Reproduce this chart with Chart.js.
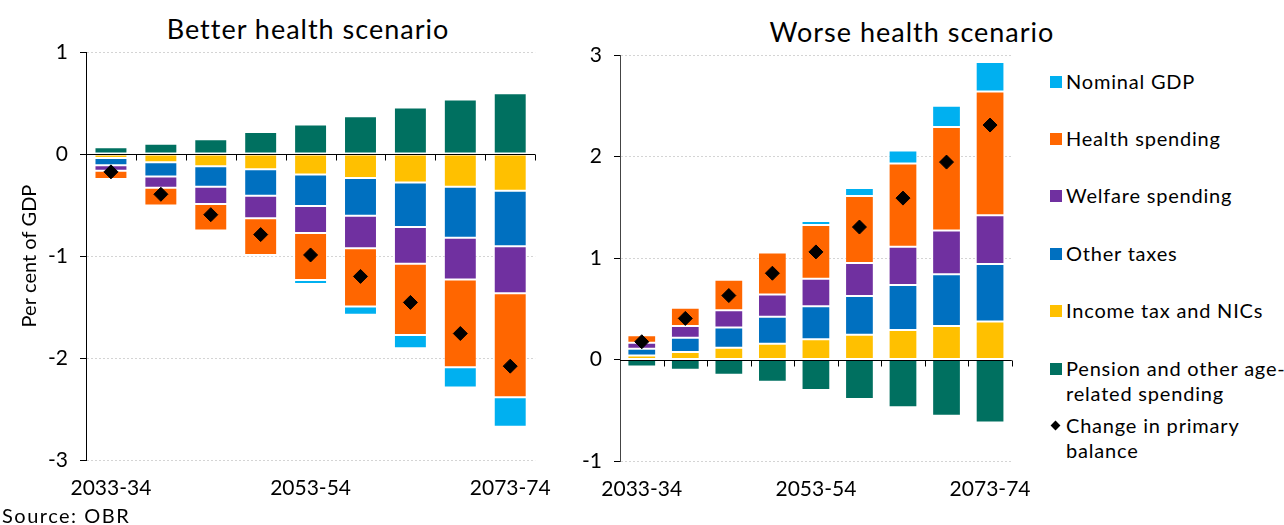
<!DOCTYPE html>
<html>
<head>
<meta charset="utf-8">
<script src="https://cdn.jsdelivr.net/npm/chart.js@4"></script>
<style>
  body { margin: 0; background: #fff; font-family: "Lato", sans-serif; color: #000; }
  #page { position: relative; width: 1284px; height: 525px; overflow: hidden; }
  .box { position: absolute; top: 0; height: 505px; }
  .title { position: absolute; font-size: 27px; letter-spacing: 1px; white-space: nowrap; transform: translateX(-50%); }
  .legend { position: absolute; left: 1048px; top: 0; font-size: 20px; letter-spacing: 0.8px; }
  .item { position: absolute; left: 0; white-space: nowrap; line-height: 25px; }
  .item i { position: absolute; left: 2px; top: 7px; width: 12px; height: 12px; }
  .item span { display: block; margin-left: 18px; }
  .item i.dia { width: 7px; height: 7px; left: 4px; top: 9px; transform: rotate(45deg); background: #000; }
  #source { position: absolute; left: 2px; top: 503px; font-size: 20px; letter-spacing: 1.5px; }
</style>
</head>
<body>
<div id="page">
  <div class="title" style="left:308px; top:12px;">Better health scenario</div>
  <div class="title" style="left:912px; top:15px;">Worse health scenario</div>
  <div class="box" style="left:0; width:560px;"><canvas id="better"></canvas></div>
  <div class="box" style="left:540px; width:500px;"><canvas id="worse"></canvas></div>
  <div class="legend" id="legend"></div>
  <div id="source">Source: OBR</div>
</div>
<script>
// ---- data (per cent of GDP) ----
const categories = ['2033-34', '2038-39', '2043-44', '2048-49', '2053-54', '2058-59', '2063-64', '2068-69', '2073-74'];

const betterIncomeTax = [-0.04, -0.08, -0.12, -0.15, -0.20, -0.235, -0.28, -0.32, -0.36];
const betterOtherTaxes = [-0.07, -0.14, -0.20, -0.26, -0.31, -0.37, -0.435, -0.50, -0.545];
const betterWelfare = [-0.055, -0.11, -0.17, -0.22, -0.265, -0.32, -0.36, -0.41, -0.46];
const betterHealth = [-0.08, -0.175, -0.26, -0.36, -0.46, -0.57, -0.70, -0.86, -1.02];
const betterNominalGdp = [-0.005, -0.005, -0.005, -0.015, -0.04, -0.08, -0.13, -0.20, -0.29];
const betterPension = [0.065, 0.10, 0.145, 0.215, 0.29, 0.37, 0.455, 0.535, 0.595];
const betterBalance = [-0.175, -0.395, -0.595, -0.79, -0.99, -1.20, -1.455, -1.76, -2.08];

const worseIncomeTax = [0.04, 0.075, 0.115, 0.155, 0.20, 0.245, 0.29, 0.33, 0.375];
const worseOtherTaxes = [0.065, 0.14, 0.20, 0.265, 0.325, 0.38, 0.445, 0.51, 0.565];
const worseWelfare = [0.06, 0.115, 0.17, 0.22, 0.27, 0.325, 0.375, 0.43, 0.48];
const worseHealth = [0.075, 0.18, 0.30, 0.415, 0.53, 0.66, 0.82, 1.02, 1.22];
const worseNominalGdp = [0, 0, 0.003, 0.017, 0.04, 0.08, 0.13, 0.21, 0.29];
const worsePension = [-0.07, -0.10, -0.15, -0.22, -0.30, -0.39, -0.47, -0.555, -0.62];
const worseBalance = [0.175, 0.405, 0.63, 0.85, 1.06, 1.305, 1.59, 1.945, 2.31];

const betterTicks = [1, 0, -1, -2, -3];
const worseTicks = [3, 2, 1, 0, -1];

// ---- colours / legend ----
const colors = {
    nominal: '#00B0F0',
    health: '#FF6600',
    welfare: '#7030A0',
    other: '#0070C0',
    income: '#FFC000',
    pension: '#007060'
};

const legendItems = [
    { text: 'Nominal GDP', color: colors.nominal, top: 69 },
    { text: 'Health spending', color: colors.health, top: 126 },
    { text: 'Welfare spending', color: colors.welfare, top: 183 },
    { text: 'Other taxes', color: colors.other, top: 241 },
    { text: 'Income tax and NICs', color: colors.income, top: 298 },
    { text: 'Pension and other age-<br>related spending', color: colors.pension, top: 356 },
    { text: 'Change in primary<br>balance', diamond: true, top: 413 }
];

const legend = document.getElementById('legend');
legendItems.forEach(it => {
    const d = document.createElement('div');
    d.className = 'item';
    d.style.top = it.top + 'px';
    d.innerHTML = it.diamond
        ? `<i class="dia"></i><span>${it.text}</span>`
        : `<i style="background:${it.color}"></i><span>${it.text}</span>`;
    legend.appendChild(d);
});

Chart.defaults.font.family = 'Lato, sans-serif';
Chart.defaults.color = '#000';

// zero line with small tick marks at category boundaries
const zeroLine = {
    id: 'zeroLine',
    afterDatasetsDraw(chart) {
        const { ctx, scales: { x, y } } = chart;
        const y0 = Math.round(y.getPixelForValue(0)) + 0.5;
        const n = chart.data.labels.length;
        ctx.save();
        ctx.strokeStyle = '#000';
        ctx.lineWidth = 1;
        ctx.beginPath();
        ctx.moveTo(x.left, y0);
        ctx.lineTo(x.right, y0);
        for (let i = 1; i <= n; i++) {
            const px = Math.round(x.left + i * x.width / n) + 0.5;
            ctx.moveTo(px, y0);
            ctx.lineTo(px, y0 + 6);
        }
        ctx.stroke();
        ctx.restore();
    }
};

function barSet(label, data, color) {
    return {
        type: 'bar',
        label: label,
        data: data,
        backgroundColor: color,
        borderColor: 'rgba(255,255,255,0.35)',
        borderWidth: 1,
        borderSkipped: false,
        barPercentage: 0.66,
        categoryPercentage: 1,
        stack: 'parts',
        order: 1
    };
}

function makeChart(id, series, ticks, opts) {
    const datasets = [
        barSet('Income tax and NICs', series.income, colors.income),
        barSet('Other taxes', series.other, colors.other),
        barSet('Welfare spending', series.welfare, colors.welfare),
        barSet('Health spending', series.health, colors.health),
        barSet('Nominal GDP', series.nominal, colors.nominal),
        barSet('Pension and other age-related spending', series.pension, colors.pension),
        {
            type: 'line',
            label: 'Change in primary balance',
            data: series.balance,
            showLine: false,
            pointStyle: 'rectRot',
            pointRadius: 7,
            pointBackgroundColor: '#000',
            pointBorderColor: '#000',
            stack: 'balance',
            order: 0
        }
    ];

    return new Chart(document.getElementById(id), {
        type: 'bar',
        data: { labels: categories, datasets: datasets },
        plugins: [zeroLine],
        options: {
            responsive: true,
            maintainAspectRatio: false,
            animation: false,
            layout: { padding: { top: opts.top, right: opts.right, left: 0, bottom: 0 } },
            plugins: {
                legend: { display: false },
                tooltip: { enabled: false }
            },
            scales: {
                x: {
                    stacked: true,
                    offset: true,
                    grid: { display: false },
                    border: { display: false },
                    ticks: {
                        autoSkip: false,
                        maxRotation: 0,
                        padding: 8,
                        font: { size: 21 },
                        color: '#000',
                        callback: (v, i) => (i % 4 === 0 ? categories[i] : '')
                    },
                    afterFit: s => { s.height = opts.bottom; }
                },
                y: {
                    stacked: true,
                    min: Math.min(...ticks),
                    max: Math.max(...ticks),
                    grid: {
                        color: c => (c.tick && c.tick.value === 0 ? 'rgba(0,0,0,0)' : '#d4d4d4'),
                        tickColor: '#000',
                        tickLength: 6,
                        lineWidth: 1
                    },
                    border: { display: true, color: opts.axisColor, width: 1, dash: [2, 2] },
                    ticks: {
                        stepSize: 1,
                        padding: 12,
                        font: { size: 21 },
                        color: '#000'
                    },
                    title: {
                        display: !!opts.yTitle,
                        text: opts.yTitle || '',
                        font: { size: 20 },
                        color: '#000',
                        padding: { top: 18, bottom: 0 }
                    },
                    afterFit: s => { s.width = opts.left; }
                }
            }
        }
    });
}

makeChart('better', {
    income: betterIncomeTax, other: betterOtherTaxes, welfare: betterWelfare,
    health: betterHealth, nominal: betterNominalGdp, pension: betterPension, balance: betterBalance
}, betterTicks, { top: 52, right: 24, bottom: 45, left: 86, axisColor: '#000', yTitle: 'Per cent of GDP' });

makeChart('worse', {
    income: worseIncomeTax, other: worseOtherTaxes, welfare: worseWelfare,
    health: worseHealth, nominal: worseNominalGdp, pension: worsePension, balance: worseBalance
}, worseTicks, { top: 55, right: 27, bottom: 44, left: 80, axisColor: '#444' });
</script>
</body>
</html>
